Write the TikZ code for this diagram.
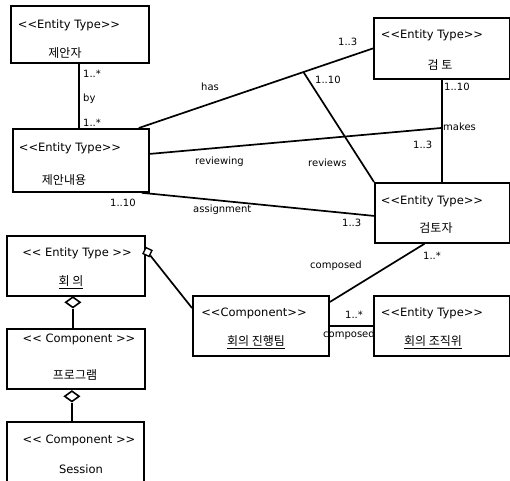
\documentclass[tikz,border=0pt]{standalone}
\usepackage{fontspec}
\newfontfamily\lab{DejaVu Sans}
\newfontfamily\kr{Noto Sans CJK KR}
\usetikzlibrary{shapes.geometric,calc}
\tikzset{
  box/.style={draw,line width=1.8pt,fill=white,anchor=north west,inner sep=0pt},
  conn/.style={line width=1.7pt},
  stereo/.style={font=\lab\fontsize{11.5}{13}\selectfont,inner sep=0pt},
  krtext/.style={font=\kr\fontsize{12}{14}\selectfont,inner sep=0pt},
  lbl/.style={font=\lab\fontsize{10}{12}\selectfont,inner sep=0pt,anchor=west},
  agg/.style={draw,shape=diamond,fill=white,line width=1.6pt,inner sep=0pt,aspect=1.4,minimum width=15pt,minimum height=11pt}
}
\begin{document}
\begin{tikzpicture}[x=1pt,y=-1pt]
\clip (0,0) rectangle (510,480);
\fill[white] (0,0) rectangle (510,480);
% boxes
\node[box,minimum width=138pt,minimum height=57pt] (b1) at (10,5) {};
\node[box,minimum width=136pt,minimum height=61pt] (b2) at (373,17) {};
\node[box,minimum width=136pt,minimum height=63pt] (b3) at (12,128) {};
\node[box,minimum width=135pt,minimum height=60pt] (b4) at (374,182) {};
\node[box,minimum width=138pt,minimum height=60pt] (b5) at (6,235) {};
\node[box,minimum width=138pt,minimum height=60pt] (b6) at (6,328) {};
\node[box,minimum width=137pt,minimum height=70pt] (b7) at (6,421) {};
\node[box,minimum width=136pt,minimum height=60pt] (b8) at (192,295) {};
% connectors
\coordinate (hasA) at ([xshift=-11pt]b3.north east);
\coordinate (rv) at ($(hasA)!0.703!(b2.west)$);
\coordinate (mk) at (441,128);
\draw[conn] ([xshift=-1pt]b1.south) -- ([xshift=-1pt]b1.south |- b3.north);
\draw[conn] (hasA) -- (b2.west);
\draw[conn] (rv) -- (b4.north west);
\draw[conn] (b2.south) -- (b2.south |- b4.north);
\draw[conn] ([yshift=6.5pt]b3.east) -- (mk);
\draw[conn] ([xshift=-8pt]b3.south east) -- ([yshift=-3pt]b4.west);
\draw[conn] ([xshift=-18pt]b4.south) -- ([yshift=-7pt]b8.north east);
% aggregation diamonds
\node[agg] (d1) at ([xshift=-3pt,yshift=-5.5pt]b5.south) {};
\draw[conn] (d1.south) -- (d1.south |- b6.north);
\node[agg] (d2) at ([xshift=-4pt,yshift=-6.5pt]b6.south) {};
\draw[conn] (d2.south) -- (d2.south |- b7.north);
\node[draw,shape=diamond,fill=white,line width=1.4pt,inner sep=0pt,minimum width=10pt,minimum height=10pt,rotate=20] (d3) at (147.5,252) {};
\coordinate (aggEnd) at ([yshift=-13pt]b8.north west);
\draw[conn] (d3) -- (aggEnd);
% box texts
\node[stereo] (t1) at (69,25) {<{}<Entity Type>{}>};
\node[krtext] (k1) at (65,53) {제안자};
\node[stereo] (t2) at (432,35) {<{}<Entity Type>{}>};
\node[krtext] (k2) at (440,65) {검 토};
\node[stereo] (t3) at (70,148) {<{}<Entity Type>{}>};
\node[krtext] (k3) at (64,180) {제안내용};
\node[stereo] (t4) at (432,201) {<{}<Entity Type>{}>};
\node[krtext] (k4) at (436,228) {검토자};
\node[stereo] (t5) at (77,253) {<{}< Entity Type >{}>};
\node[krtext] (k5) at (71,282) {\underline{회 의}};
\node[stereo] (t6) at (79,339) {<{}< Component >{}>};
\node[krtext] (k6) at (75,375) {프로그램};
\node[stereo] (t7) at (79,440) {<{}< Component >{}>};
\node[stereo] (k7) at (81,469) {Session};
\node[stereo] (t8) at (254,313) {<{}<Component>{}>};
\node[krtext] (k8) at (256,342) {\underline{회의 진행팀}};
% labels
\node[lbl] (l1) at (83,74) {1..*};
\node[lbl] (l2) at (83,99) {by};
\node[lbl] (l3) at (83,123) {1..*};
\node[lbl] (l4) at (201,87) {has};
\node[lbl] (l5) at (338,42) {1..3};
\node[lbl] (l6) at (315,80) {1..10};
\node[lbl] (l7) at (444,87) {1..10};
\node[lbl] (l8) at (443,127) {makes};
\node[lbl] (l9) at (413,145) {1..3};
\node[lbl] (l10) at (195,162) {reviewing};
\node[lbl] (l11) at (308,163) {reviews};
\node[lbl] (l12) at (110,203) {1..10};
\node[lbl] (l13) at (193,210) {assignment};
\node[lbl] (l14) at (342,223) {1..3};
\node[lbl] (l15) at (423,256) {1..*};
\node[lbl] (l16) at (310,266) {composed};
\node[lbl] (l17) at (345,315) {1..*};
\node[lbl] (l18) at (323,335) {composed};
% last box covers the label end
\node[box,minimum width=136pt,minimum height=60pt] (b9) at (373,295) {};
\draw[conn] (b8.east) -- (b9.west);
\node[stereo] (t9) at (432,313) {<{}<Entity Type>{}>};
\node[krtext] (k9) at (433,342) {\underline{회의 조직위}};
\end{tikzpicture}
\end{document}
